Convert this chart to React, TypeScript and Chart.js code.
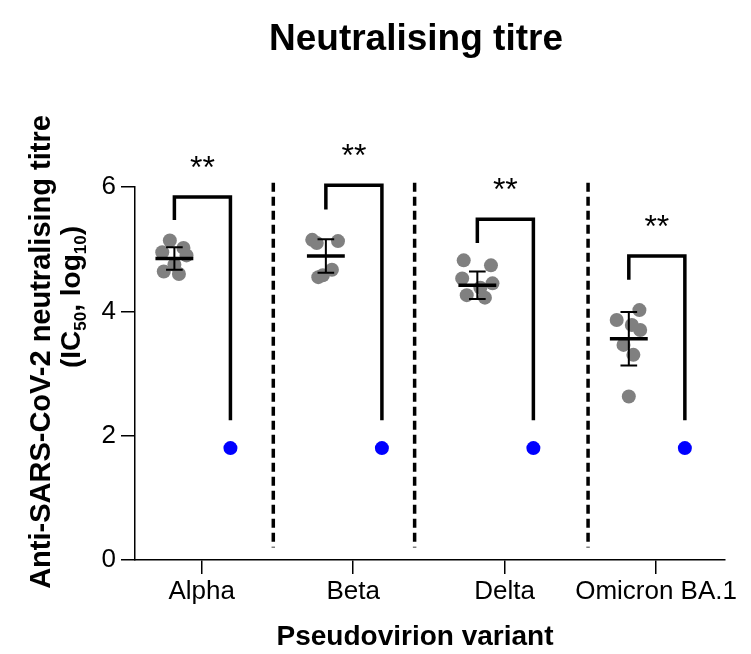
import React, { useEffect, useRef } from "react";
import { Chart, registerables } from "chart.js";
Chart.register(...registerables);

const FONT = '"Liberation Sans", Arial, Helvetica, sans-serif';

const categories = ["Alpha", "Beta", "Delta", "Omicron BA.1"];

// vaccinated (grey) individual titres, log10 IC50
const alphaValues = [5.14, 5.02, 4.95, 4.9, 4.75, 4.64, 4.6];
const alphaJitter = [-0.03, 0.06, -0.08, 0.08, 0.0, -0.07, 0.03];
const betaValues = [5.15, 5.13, 5.1, 4.67, 4.58, 4.55];
const betaJitter = [-0.09, 0.08, -0.06, 0.04, -0.02, -0.05];
const deltaValues = [4.82, 4.74, 4.53, 4.45, 4.38, 4.26, 4.22];
const deltaJitter = [-0.09, 0.09, -0.1, 0.1, 0.02, -0.07, 0.05];
const omicronValues = [4.02, 3.86, 3.78, 3.7, 3.46, 3.3, 2.63];
const omicronJitter = [0.07, -0.08, 0.02, 0.075, -0.035, 0.03, 0.0];

const groupValues = [alphaValues, betaValues, deltaValues, omicronValues];
const groupJitter = [alphaJitter, betaJitter, deltaJitter, omicronJitter];

// summary (mean ± SD)
const means = [4.85, 4.89, 4.42, 3.56];
const sds = [0.18, 0.27, 0.22, 0.43];

// control (blue) values
const controlValues = [1.8, 1.8, 1.8, 1.8];

// significance brackets
const bracketTop = [5.84, 6.03, 5.48, 4.89];
const bracketLeftBottom = [5.47, 5.64, 5.1, 4.51];
const bracketRightBottom = [2.25, 2.25, 2.25, 2.25];
const significance = ["**", "**", "**", "**"];

// dashed separators between variants (x in category units)
const separatorX = [1.473, 2.406, 3.551];
const separatorRange = [0.2, 6.07];

const yTicks = [0, 2, 4, 6];

const GREY_OFFSET = -0.18;
const BLUE_OFFSET = 0.19;

export default function App() {
  const ref = useRef<HTMLCanvasElement | null>(null);

  useEffect(() => {
    if (!ref.current) return;

    const greyData: { x: number; y: number }[] = [];
    groupValues.forEach((vals, i) => {
      vals.forEach((v, j) => {
        greyData.push({ x: i + 1 + GREY_OFFSET + groupJitter[i][j], y: v });
      });
    });
    const blueData = controlValues.map((v, i) => ({ x: i + 1 + BLUE_OFFSET, y: v }));

    const overlay = {
      id: "overlay",
      afterDatasetsDraw(chart: any) {
        const ctx = chart.ctx as CanvasRenderingContext2D;
        const xs = chart.scales.x;
        const ys = chart.scales.y;
        ctx.save();
        ctx.strokeStyle = "#000";
        ctx.fillStyle = "#000";

        // separators
        ctx.lineWidth = 3.5;
        ctx.setLineDash([9, 5]);
        separatorX.forEach((sx) => {
          const px = xs.getPixelForValue(sx);
          ctx.beginPath();
          ctx.moveTo(px, ys.getPixelForValue(separatorRange[1]));
          ctx.lineTo(px, ys.getPixelForValue(separatorRange[0]));
          ctx.stroke();
        });
        ctx.setLineDash([]);

        // mean & SD
        means.forEach((m, i) => {
          const cx = i + 1 + GREY_OFFSET;
          const top = ys.getPixelForValue(m + sds[i]);
          const bot = ys.getPixelForValue(m - sds[i]);
          const px = xs.getPixelForValue(cx);
          ctx.lineWidth = 2;
          ctx.beginPath();
          ctx.moveTo(px, top);
          ctx.lineTo(px, bot);
          ctx.moveTo(xs.getPixelForValue(cx - 0.055), top);
          ctx.lineTo(xs.getPixelForValue(cx + 0.055), top);
          ctx.moveTo(xs.getPixelForValue(cx - 0.055), bot);
          ctx.lineTo(xs.getPixelForValue(cx + 0.055), bot);
          ctx.stroke();
          ctx.lineWidth = 3.5;
          ctx.beginPath();
          const my = ys.getPixelForValue(m);
          ctx.moveTo(xs.getPixelForValue(cx - 0.125), my);
          ctx.lineTo(xs.getPixelForValue(cx + 0.125), my);
          ctx.stroke();
        });

        // brackets
        ctx.lineWidth = 3.5;
        ctx.lineJoin = "miter";
        bracketTop.forEach((t, i) => {
          const lx = xs.getPixelForValue(i + 1 + GREY_OFFSET);
          const rx = xs.getPixelForValue(i + 1 + BLUE_OFFSET);
          const ty = ys.getPixelForValue(t);
          ctx.beginPath();
          ctx.moveTo(lx, ys.getPixelForValue(bracketLeftBottom[i]));
          ctx.lineTo(lx, ty);
          ctx.lineTo(rx, ty);
          ctx.lineTo(rx, ys.getPixelForValue(bracketRightBottom[i]));
          ctx.stroke();
          ctx.font = `32px ${FONT}`;
          ctx.textAlign = "center";
          ctx.textBaseline = "alphabetic";
          ctx.fillText(significance[i], (lx + rx) / 2, ty - 39 + 0.62 * 32);
        });

        // title
        ctx.textAlign = "center";
        ctx.textBaseline = "middle";
        ctx.font = `bold 37px ${FONT}`;
        ctx.fillText("Neutralising titre", 416, 40);

        // x title
        ctx.font = `bold 28px ${FONT}`;
        ctx.fillText("Pseudovirion variant", 415, 637);

        // y title line 1
        ctx.save();
        ctx.translate(40, 352);
        ctx.rotate(-Math.PI / 2);
        ctx.font = `bold 29px ${FONT}`;
        ctx.textAlign = "center";
        ctx.textBaseline = "alphabetic";
        ctx.fillText("Anti-SARS-CoV-2 neutralising titre", 0, 10);
        ctx.restore();

        // y title line 2 with subscripts
        ctx.save();
        ctx.translate(70, 297);
        ctx.rotate(-Math.PI / 2);
        const parts: [string, boolean][] = [
          ["(IC", false],
          ["50", true],
          [", log", false],
          ["10", true],
          [")", false],
        ];
        const big = `bold 28px ${FONT}`;
        const small = `bold 17px ${FONT}`;
        let w = 0;
        parts.forEach(([s, sub]) => {
          ctx.font = sub ? small : big;
          w += ctx.measureText(s).width;
        });
        let x = -w / 2;
        ctx.textAlign = "left";
        ctx.textBaseline = "alphabetic";
        parts.forEach(([s, sub]) => {
          ctx.font = sub ? small : big;
          ctx.fillText(s, x, sub ? 16 : 10);
          x += ctx.measureText(s).width;
        });
        ctx.restore();

        ctx.restore();
      },
    };

    const chart = new Chart(ref.current, {
      type: "scatter",
      data: {
        datasets: [
          {
            data: greyData,
            backgroundColor: "rgb(128,128,128)",
            borderWidth: 0,
            pointRadius: 7,
          },
          {
            data: blueData,
            backgroundColor: "rgb(0,0,255)",
            borderWidth: 0,
            pointRadius: 7,
          },
        ],
      },
      options: {
        responsive: false,
        animation: false,
        events: [],
        layout: { padding: { left: 0, right: 26, top: 187, bottom: 0 } },
        plugins: { legend: { display: false }, tooltip: { enabled: false }, title: { display: false } },
        scales: {
          x: {
            type: "linear",
            min: 0.56,
            max: 4.455,
            afterBuildTicks: (scale: any) => {
              scale.ticks = categories.map((_, i) => ({ value: i + 1 }));
            },
            afterFit: (scale: any) => {
              scale.height = 94;
            },
            ticks: {
              callback: (v: any) => categories[Math.round(Number(v)) - 1] ?? "",
              color: "#000",
              font: { family: FONT, size: 26 },
              padding: 2,
              maxRotation: 0,
              autoSkip: false,
            },
            grid: { drawOnChartArea: false, drawTicks: true, tickLength: 14, color: "#000", lineWidth: 1.5 },
            border: { display: true, color: "#000", width: 1.5 },
          },
          y: {
            type: "linear",
            min: 0,
            max: 6,
            afterBuildTicks: (scale: any) => {
              scale.ticks = yTicks.map((v) => ({ value: v }));
            },
            afterFit: (scale: any) => {
              scale.width = 135;
            },
            ticks: {
              color: "#000",
              font: { family: FONT, size: 26 },
              padding: 5,
            },
            grid: { drawOnChartArea: false, drawTicks: true, tickLength: 14, color: "#000", lineWidth: 1.5 },
            border: { display: true, color: "#000", width: 1.5 },
          },
        },
      },
      plugins: [overlay],
    });
    return () => chart.destroy();
  }, []);

  return (
    <div style={{ position: "absolute", left: 0, top: 0, width: 751, height: 654, background: "#fff" }}>
      <canvas ref={ref} width={751} height={654} style={{ display: "block" }} />
    </div>
  );
}
